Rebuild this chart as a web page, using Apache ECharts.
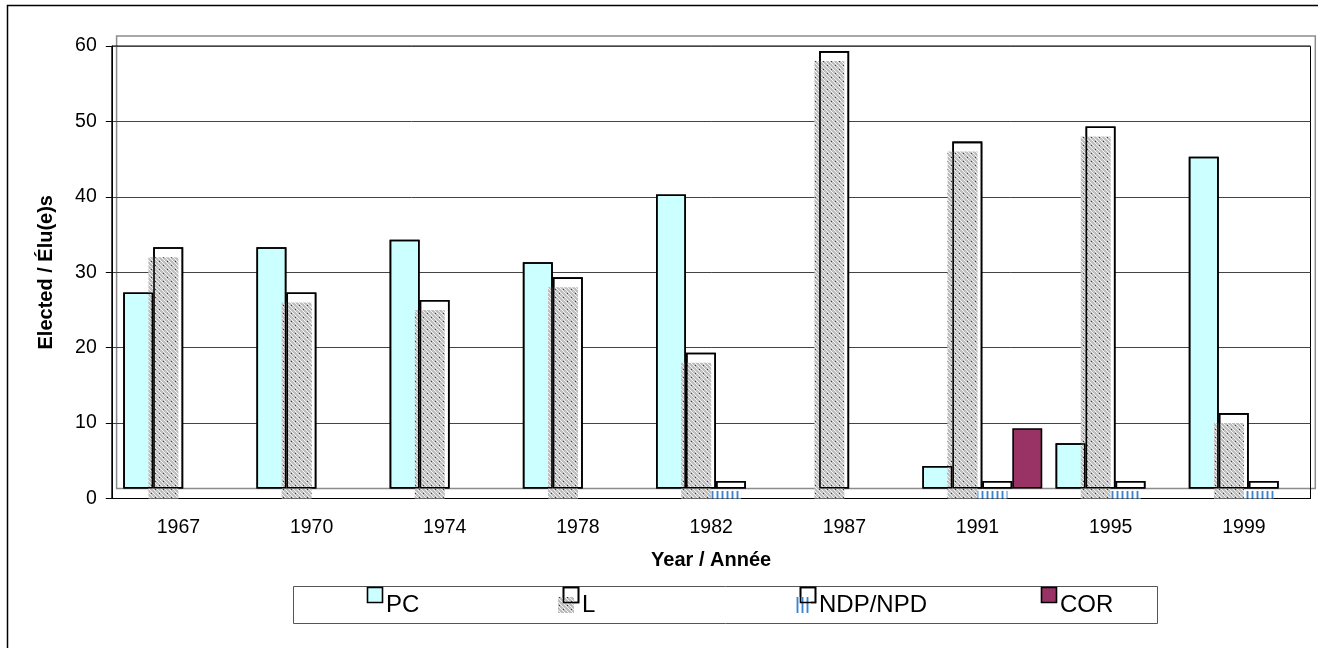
<!DOCTYPE html>
<html><head><meta charset="utf-8">
<script src="https://cdn.jsdelivr.net/npm/echarts@6/dist/echarts.min.js"></script>
<style>html,body{margin:0;padding:0;background:#fff}#c{width:1318px;height:648px}</style>
</head><body><div id="c"></div>
<script>
// ---- data ----
const years = ['1967','1970','1974','1978','1982','1987','1991','1995','1999'];
const pc  = [26, 32, 33, 30, 39, null, 3, 6, 44];
const lib = [32, 26, 25, 28, 18, 58, 46, 48, 10];
const ndp = [null, null, null, null, 1, null, 1, 1, 1];
const cor = [null, null, null, null, null, null, 8, null, null];
const yMin = 0, yMax = 60, yStep = 10;
const seriesNames = ['PC', 'L', 'NDP/NPD', 'COR'];

const FONT = 'Liberation Sans, Arial, sans-serif';

function makePattern(w, h, fn) {
  const c = document.createElement('canvas');
  c.width = w; c.height = h;
  const g = c.getContext('2d');
  const img = g.createImageData(w, h);
  for (let y = 0; y < h; y++) for (let x = 0; x < w; x++) {
    const col = fn(x, y);
    const i = (y * w + x) * 4;
    img.data[i] = col[0]; img.data[i+1] = col[1]; img.data[i+2] = col[2]; img.data[i+3] = 255;
  }
  g.putImageData(img, 0, 0);
  return { image: c, repeat: 'repeat' };
}
const hatch = makePattern(8, 8, (x, y) => {
  const d = ((x - y) % 8 + 8) % 8;
  if (d === 0 || d === 4) return [245, 245, 245];
  if (d === 2 && y % 4 === 1) return [60, 60, 60];
  return [190, 190, 190];
});
const stripes = makePattern(5, 2, (x) => {
  return [[255,255,255],[168,202,238],[58,132,210],[168,202,238],[255,255,255]][x];
});

const gridW = 1198.7, gridH = 452.5;
const backGrid  = { left: 116.6, top: 36, width: gridW, height: gridH, show: true, borderColor: '#8c8c8c', borderWidth: 1.5 };
const frontGrid = { left: 111.8, top: 46, width: gridW, height: gridH, show: true, borderColor: '#000', borderWidth: 1 };
const overGrid  = { left: 116.6, top: 36, width: gridW, height: gridH, show: false };

function hiddenX(i) { return { type: 'category', gridIndex: i, data: years, show: false }; }
function hiddenY(i) { return { type: 'value', gridIndex: i, min: yMin, max: yMax, interval: yStep, show: false, splitLine: { show: false } }; }

const common = { type: 'bar', barGap: '0%', barCategoryGap: '10%', animation: false, silent: true };
function bar(idx, name, data, style, z) {
  return Object.assign({}, common, { name: name, xAxisIndex: idx, yAxisIndex: idx, data: data, itemStyle: style, z: z });
}
const border = { borderColor: '#000', borderWidth: 1.6 };

const option = {
  backgroundColor: '#fff',
  animation: false,
  grid: [backGrid, frontGrid, overGrid],
  xAxis: [
    hiddenX(0),
    { type: 'category', gridIndex: 1, data: years,
      axisLine: { lineStyle: { color: '#000', width: 1 } },
      axisTick: { show: false },
      axisLabel: { color: '#000', fontSize: 19.5, fontFamily: FONT, margin: 19 },
      name: 'Year / Année', nameLocation: 'middle', nameGap: 52,
      nameTextStyle: { color: '#000', fontSize: 20, fontWeight: 'bold', fontFamily: FONT } },
    hiddenX(2)
  ],
  yAxis: [
    hiddenY(0),
    { type: 'value', gridIndex: 1, min: yMin, max: yMax, interval: yStep,
      axisLine: { show: true, lineStyle: { color: '#000', width: 1 } },
      axisTick: { show: true, inside: false, length: 6, lineStyle: { color: '#000' } },
      axisLabel: { color: '#000', fontSize: 19.5, fontFamily: FONT, margin: 15 },
      splitLine: { show: true, lineStyle: { color: '#444', width: 1 } },
      name: 'Elected / Élu(e)s', nameLocation: 'middle', nameGap: 55, nameRotate: 90,
      nameTextStyle: { color: '#000', fontSize: 20, fontWeight: 'bold', fontFamily: FONT } },
    hiddenY(2)
  ],
  series: [
    bar(0, seriesNames[0], pc,  Object.assign({ color: '#CCFFFF' }, border), 2),
    bar(0, seriesNames[1], lib, Object.assign({ color: '#ffffff' }, border), 2),
    bar(0, seriesNames[2], ndp, Object.assign({ color: '#ffffff' }, border), 2),
    bar(0, seriesNames[3], cor, Object.assign({ color: '#993366' }, border), 2),
    bar(1, seriesNames[0], [], { color: 'transparent' }, 3),
    bar(1, seriesNames[1], lib, { color: hatch, borderWidth: 0 }, 3),
    bar(1, seriesNames[2], ndp, { color: stripes, borderWidth: 0 }, 3),
    bar(1, seriesNames[3], [], { color: 'transparent' }, 3),
    bar(2, seriesNames[0], pc,  Object.assign({ color: 'transparent' }, border), 4),
    bar(2, seriesNames[1], lib, Object.assign({ color: 'transparent' }, border), 4),
    bar(2, seriesNames[2], ndp, Object.assign({ color: 'transparent' }, border), 4),
    bar(2, seriesNames[3], [], { color: 'transparent' }, 4)
  ],
  graphic: [
    { type: 'rect', shape: { x: 7.5, y: 5.5, width: 1330, height: 660 }, style: { fill: 'none', stroke: '#000', lineWidth: 1.5 }, z: 0, silent: true },
    { type: 'rect', shape: { x: 293.5, y: 586.5, width: 864, height: 37 }, style: { fill: '#fff', stroke: '#555', lineWidth: 1 }, z: 10, silent: true },
    { type: 'rect', shape: { x: 367.5, y: 587.5, width: 15, height: 15 }, style: { fill: '#CCFFFF', stroke: '#000', lineWidth: 1.6 }, z: 11 },
    { type: 'text', x: 386, y: 605.5, style: { text: seriesNames[0], font: '24px ' + FONT, fill: '#000', verticalAlign: 'middle' }, z: 11 },
    { type: 'rect', shape: { x: 563.5, y: 587.5, width: 15, height: 15 }, style: { fill: '#fff', stroke: '#000', lineWidth: 1.6 }, z: 11 },
    { type: 'rect', shape: { x: 558, y: 597, width: 16, height: 16 }, style: { fill: hatch }, z: 12 },
    { type: 'rect', shape: { x: 563.5, y: 587.5, width: 15, height: 15 }, style: { fill: 'none', stroke: '#000', lineWidth: 1.6 }, z: 13 },
    { type: 'text', x: 582, y: 605.5, style: { text: seriesNames[1], font: '24px ' + FONT, fill: '#000', verticalAlign: 'middle' }, z: 11 },
    { type: 'rect', shape: { x: 800.5, y: 587.5, width: 15, height: 15 }, style: { fill: '#fff', stroke: '#000', lineWidth: 1.6 }, z: 11 },
    { type: 'rect', shape: { x: 795, y: 597, width: 16, height: 16 }, style: { fill: stripes }, z: 12 },
    { type: 'rect', shape: { x: 800.5, y: 587.5, width: 15, height: 15 }, style: { fill: 'none', stroke: '#000', lineWidth: 1.6 }, z: 13 },
    { type: 'text', x: 819, y: 605.5, style: { text: seriesNames[2], font: '24px ' + FONT, fill: '#000', verticalAlign: 'middle' }, z: 11 },
    { type: 'rect', shape: { x: 1041.5, y: 587.5, width: 15, height: 15 }, style: { fill: '#993366', stroke: '#000', lineWidth: 1.6 }, z: 11 },
    { type: 'text', x: 1060, y: 605.5, style: { text: seriesNames[3], font: '24px ' + FONT, fill: '#000', verticalAlign: 'middle' }, z: 11 }
  ]
};

const chart = echarts.init(document.getElementById('c'), null, { renderer: 'canvas' });
chart.setOption(option);
</script>
</body></html>
